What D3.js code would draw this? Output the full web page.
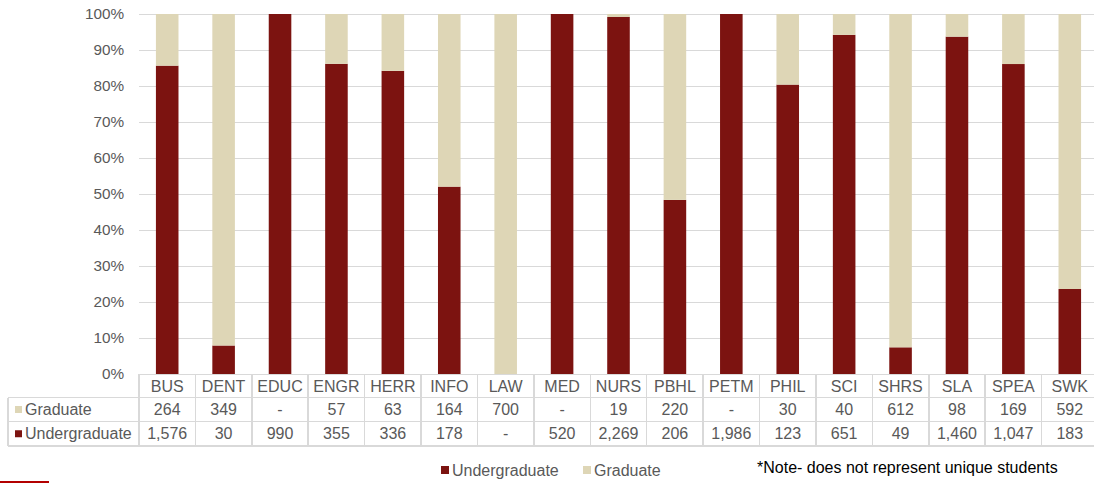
<!DOCTYPE html>
<html>
<head>
<meta charset="utf-8">
<script src="https://cdn.jsdelivr.net/npm/d3@7/dist/d3.min.js"></script>
<style>
  html, body { margin: 0; padding: 0; background: #fff; }
  svg { display: block; font-family: "Liberation Sans", Arial, sans-serif; }
</style>
</head>
<body>
<svg id="chart" width="1094" height="483"></svg>
<script>
// Enrollment by school, split into undergraduate and graduate headcounts
const schools = ["BUS","DENT","EDUC","ENGR","HERR","INFO","LAW","MED","NURS","PBHL","PETM","PHIL","SCI","SHRS","SLA","SPEA","SWK"];
const graduate =      [264, 349, 0, 57, 63, 164, 700, 0, 19, 220, 0, 30, 40, 612, 98, 169, 592];
const undergraduate = [1576, 30, 990, 355, 336, 178, 0, 520, 2269, 206, 1986, 123, 651, 49, 1460, 1047, 183];
const yTicks = [0, 0.1, 0.2, 0.3, 0.4, 0.5, 0.6, 0.7, 0.8, 0.9, 1.0];
const seriesNames = ["Undergraduate", "Graduate"];
const noteText = "*Note- does not represent unique students";

const colUG = "#7c1310";
const colGR = "#ded6b6";
const textCol = "#595959";
const gridCol = "#d9d9d9";

const svg = d3.select("#chart");

const margin = { left: 139, top: 14 };
const plotRight = 1098;
const plotBottom = 374;

const x = d3.scaleBand().domain(schools).range([margin.left, plotRight]).paddingInner(0).paddingOuter(0);
const y = d3.scaleLinear().domain([0, 1]).range([plotBottom, margin.top]);
const fmt = d3.format(",");
const pct = d3.format(".0%");

// Gridlines
svg.append("g").selectAll("line").data(yTicks).join("line")
  .attr("x1", margin.left).attr("x2", plotRight)
  .attr("y1", d => y(d)).attr("y2", d => y(d))
  .attr("stroke", gridCol).attr("stroke-width", 1)
  .attr("shape-rendering", "crispEdges");

// Y axis labels
svg.append("g").selectAll("text").data(yTicks).join("text")
  .attr("x", 124).attr("y", d => y(d)).attr("dy", "0.35em")
  .attr("text-anchor", "end").attr("font-size", 15.3).attr("fill", textCol)
  .text(d => pct(d));

// Stacked 100% bars
const rows = schools.map((s, i) => {
  const tot = undergraduate[i] + graduate[i];
  return { school: s, ug: undergraduate[i] / tot, gr: graduate[i] / tot };
});
const barW = x.bandwidth() * 0.4;
const bars = svg.append("g");
bars.selectAll("rect.ug").data(rows).join("rect").attr("class", "ug")
  .attr("x", d => x(d.school) + (x.bandwidth() - barW) / 2)
  .attr("width", barW)
  .attr("y", d => y(d.ug))
  .attr("height", d => y(0) - y(d.ug))
  .attr("fill", colUG);
bars.selectAll("rect.gr").data(rows).join("rect").attr("class", "gr")
  .attr("x", d => x(d.school) + (x.bandwidth() - barW) / 2)
  .attr("width", barW)
  .attr("y", d => y(1))
  .attr("height", d => y(d.ug) - y(1))
  .attr("fill", colGR);

// Data table under the axis
const rowTop = [374, 397.5, 421.5];
const rowBot = 446;
const tableLeft = 8;
const fs = 16;
const tbl = svg.append("g").attr("shape-rendering", "crispEdges");
// horizontal rules
tbl.append("line").attr("x1", margin.left).attr("x2", plotRight).attr("y1", rowTop[0]).attr("y2", rowTop[0]).attr("stroke", gridCol);
[rowTop[1], rowTop[2], rowBot].forEach(yy => {
  tbl.append("line").attr("x1", tableLeft).attr("x2", plotRight).attr("y1", yy).attr("y2", yy).attr("stroke", gridCol).attr("stroke-width", 1.5);
});
// vertical rules
tbl.append("line").attr("x1", tableLeft).attr("x2", tableLeft).attr("y1", rowTop[1]).attr("y2", rowBot).attr("stroke", gridCol).attr("stroke-width", 1.5);
tbl.selectAll("line.v").data(schools).join("line").attr("class", "v")
  .attr("x1", d => x(d)).attr("x2", d => x(d))
  .attr("y1", rowTop[0]).attr("y2", rowBot)
  .attr("stroke", gridCol).attr("stroke-width", 1.5);

const cellText = (vals, yy) => {
  svg.append("g").selectAll("text").data(schools).join("text")
    .attr("x", d => x(d) + x.bandwidth() / 2)
    .attr("y", yy).attr("dy", "0.35em")
    .attr("text-anchor", "middle").attr("font-size", fs).attr("fill", textCol)
    .text((d, i) => vals(i));
};
cellText(i => schools[i], (rowTop[0] + rowTop[1]) / 2 + 1);
cellText(i => graduate[i] === 0 ? "-" : fmt(graduate[i]), (rowTop[1] + rowTop[2]) / 2);
cellText(i => undergraduate[i] === 0 ? "-" : fmt(undergraduate[i]), (rowTop[2] + rowBot) / 2);

// Row labels with key swatches
const rowLabels = [
  { name: "Graduate", color: colGR, yy: (rowTop[1] + rowTop[2]) / 2 },
  { name: "Undergraduate", color: colUG, yy: (rowTop[2] + rowBot) / 2 }
];
rowLabels.forEach(r => {
  svg.append("rect").attr("x", 15).attr("y", r.yy - 3.5).attr("width", 7).attr("height", 7).attr("fill", r.color);
  svg.append("text").attr("x", 25).attr("y", r.yy).attr("dy", "0.35em")
    .attr("font-size", fs).attr("fill", textCol).text(r.name);
});

// Legend
const legend = [
  { name: seriesNames[0], color: colUG, x: 441 },
  { name: seriesNames[1], color: colGR, x: 583 }
];
legend.forEach(l => {
  svg.append("rect").attr("x", l.x).attr("y", 466).attr("width", 8).attr("height", 8).attr("fill", l.color);
  svg.append("text").attr("x", l.x + 11).attr("y", 470).attr("dy", "0.35em")
    .attr("font-size", fs).attr("fill", textCol).text(l.name);
});

// Footnote
svg.append("text").attr("x", 757).attr("y", 467).attr("dy", "0.35em")
  .attr("font-size", 16).attr("fill", "#000").text(noteText);

// Accent rule at bottom left
svg.append("rect").attr("x", 0).attr("y", 481).attr("width", 49).attr("height", 2).attr("fill", "#b30000");
</script>
</body>
</html>
